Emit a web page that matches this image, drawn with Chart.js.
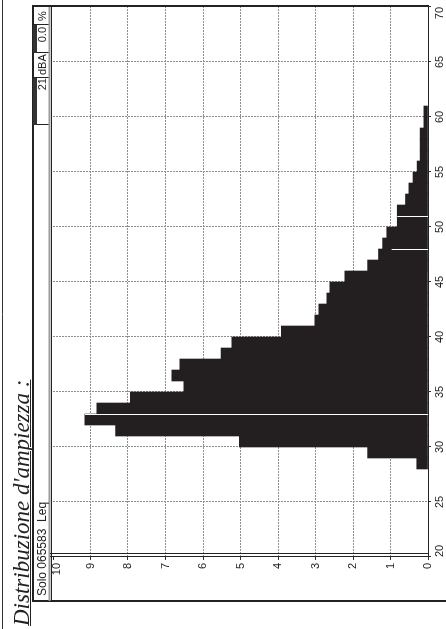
<!DOCTYPE html>
<html>
<head>
<meta charset="utf-8">
<script src="https://cdn.jsdelivr.net/npm/chart.js@4"></script>
<style>
  html, body { margin: 0; padding: 0; background: #fff; overflow: hidden; width: 446px; height: 629px; }
  /* the sheet is laid out landscape and turned a quarter turn counter-clockwise */
  #sheet { position: absolute; left: 0; top: 0; width: 629px; height: 446px;
           transform-origin: 0 0; transform: translate(0, 629px) rotate(-90deg); }
  #sheet canvas { position: absolute; left: 0; top: 0; }
  .lbl { position: absolute; font-family: 'Liberation Sans', Arial, sans-serif; font-size: 11px;
         line-height: 11px; color: #222; white-space: pre; }
  .title { position: absolute; left: 3px; top: 10px; font-family: 'Liberation Serif', 'Times New Roman', serif;
           font-style: italic; font-size: 23px; line-height: 23px; color: #222; white-space: pre;
           text-decoration: underline; text-decoration-thickness: 1px; }
</style>
</head>
<body>
<div id="sheet">
  <canvas id="histo" width="629" height="446"></canvas>
  <div class="title">Distribuzione d'ampiezza :</div>
  <div class="lbl" style="left:33px; top:36px; font-size:12px; line-height:12px;">Solo 065583  Leq</div>
  <div class="lbl" style="left:504px; top:37px; width:47px; text-align:right;">21</div>
  <div class="lbl" style="left:554px; top:37px;">dBA</div>
  <div class="lbl" style="left:576px; top:37px; width:26px; text-align:right;">0.0</div>
  <div class="lbl" style="left:604px; top:37px; width:18px; text-align:center;">%</div>
</div>
<script>
// Amplitude distribution: share of time (%) spent in each 1 dB class
const binStart = [28, 29, 30, 31, 32, 33, 34, 35, 36, 37, 38, 39, 40, 41, 42, 43, 44,
                  45, 46, 47, 48, 49, 50, 51, 52, 53, 54, 55, 56, 57, 58, 59, 60];
const percent  = [0.30, 1.61, 5.03, 8.33, 9.15, 8.83, 7.94, 6.51, 6.83, 6.62, 5.52, 5.23, 3.91, 3.02, 2.91, 2.70, 2.62,
                  2.22, 1.61, 1.32, 1.21, 1.10, 0.82, 0.82, 0.60, 0.51, 0.40, 0.29, 0.21, 0.21, 0.21, 0.11, 0.11];

// axis ticks
const dbTicks  = [20, 25, 30, 35, 40, 45, 50, 55, 60, 65, 70];
const pctTicks = [0, 1, 2, 3, 4, 5, 6, 7, 8, 9, 10];

// level markers cut through the bars (level in dB, reach in %)
const markerDb  = [33, 48, 51];
const markerPct = [9.15, 0.97, 0.82];

const INK = '#231f20';
const FONT = "'Liberation Sans', Arial, sans-serif";
const DOTS = '#8e8e8e';

const levelMarkers = {
  id: 'levelMarkers',
  afterDatasetsDraw(chart) {
    const { ctx, scales: { x, y } } = chart;
    ctx.save();
    ctx.strokeStyle = '#ffffff';
    ctx.lineWidth = 1;
    markerDb.forEach((db, i) => {
      const px = Math.round(x.getPixelForValue(db)) - 0.5;
      ctx.beginPath();
      ctx.moveTo(px, y.getPixelForValue(markerPct[i]));
      ctx.lineTo(px, y.getPixelForValue(0));
      ctx.stroke();
    });
    ctx.restore();
  }
};

const sheetFrame = {
  id: 'sheetFrame',
  afterDraw(chart) {
    const { ctx, chartArea: a } = chart;
    const line = (x1, y1, x2, y2, w, c) => {
      ctx.beginPath(); ctx.lineWidth = w; ctx.strokeStyle = c;
      ctx.moveTo(x1, y1); ctx.lineTo(x2, y2); ctx.stroke();
    };
    ctx.save();
    // page edge
    line(0, 2.5, 629, 2.5, 1, '#333');
    // outer frame
    line(27, 33, a.right + 2, 33, 2, '#222');
    line(28, 32, 28, 446, 2, '#222');
    line(a.right + 1, 32, a.right + 1, a.bottom + 1, 2, '#222');
    // header cells
    [504, 551, 576, 604].forEach(u => line(u + 0.5, 33, u + 0.5, 49, 1, '#222'));
    ctx.fillStyle = '#333';
    ctx.fillRect(504, 33, 47, 4);
    ctx.fillRect(576, 33, 28, 4);
    // plot border, top
    line(28, 49.5, a.right, 49.5, 2, '#9a9a9a');
    line(28, 51.5, a.right, 51.5, 1, '#222');
    // plot border, left (double)
    line(a.left + 0.5, 50, a.left + 0.5, a.bottom, 1, '#222');
    line(a.left + 3.5, 50, a.left + 3.5, a.bottom, 1, '#222');
    // base line
    line(a.left, a.bottom + 0.5, a.right, a.bottom + 0.5, 1, '#222');
    ctx.restore();
  }
};

new Chart(document.getElementById('histo'), {
  type: 'bar',
  data: {
    datasets: [{
      data: binStart.map((d, i) => ({ x: d + 0.5, y: percent[i] })),
      backgroundColor: INK,
      borderWidth: 0,
      barPercentage: 1,
      categoryPercentage: 1
    }]
  },
  options: {
    responsive: false,
    animation: false,
    events: [],
    layout: { padding: { top: 53, right: 7, left: 0, bottom: 0 } },
    plugins: { legend: { display: false }, tooltip: { enabled: false } },
    scales: {
      x: {
        type: 'linear', min: 20, max: 70, offset: false,
        afterBuildTicks: s => { s.ticks = dbTicks.map(v => ({ value: v })); },
        afterFit: s => { s.height = 18; },
        grid: {
          offset: false,
          color: c => (c.tick && (c.tick.value === 20 || c.tick.value === 70)) ? 'rgba(0,0,0,0)' : DOTS,
          lineWidth: 1, tickLength: 3, tickColor: '#333', tickWidth: 1
        },
        border: { display: false, dash: [2, 1] },
        ticks: { align: 'inner', autoSkip: false, maxRotation: 0, padding: 2, color: '#222',
                 font: { family: FONT, size: 11 } }
      },
      y: {
        type: 'linear', min: 0, max: 10,
        afterBuildTicks: s => { s.ticks = pctTicks.map(v => ({ value: v })); },
        afterFit: s => { s.width = 72; },
        grid: {
          color: c => (c.tick && (c.tick.value === 0 || c.tick.value === 10)) ? 'rgba(0,0,0,0)' : DOTS,
          lineWidth: 1, tickLength: 3, tickColor: '#333', tickWidth: 1
        },
        border: { display: false, dash: [2, 1] },
        ticks: {
          padding: 3, color: '#222',
          font: { family: FONT, size: 11, lineHeight: 0.8 },
          // the top label sits just inside the plot border
          callback: v => v === pctTicks[pctTicks.length - 1] ? ['', String(v)] : String(v)
        }
      }
    }
  },
  plugins: [levelMarkers, sheetFrame]
});
</script>
</body>
</html>
